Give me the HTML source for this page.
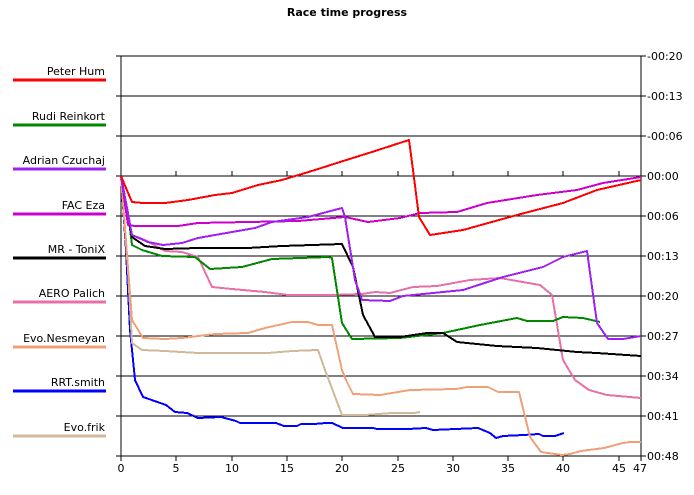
<!DOCTYPE html>
<html><head><meta charset="utf-8"><style>
body{margin:0;background:#fff}
svg{display:block}
text{font-family:"DejaVu Sans","Liberation Sans",sans-serif;font-size:11px;fill:#000}
</style></head><body>
<svg width="694" height="495" viewBox="0 0 694 495">
<text x="347" y="16" text-anchor="middle" font-weight="bold" style="font-size:11px">Race time progress</text>
<g stroke="#000" stroke-width="1" shape-rendering="crispEdges">
<line x1="116" y1="56" x2="646" y2="56"/><line x1="116" y1="96" x2="646" y2="96"/>
<line x1="116" y1="136" x2="646" y2="136"/><line x1="116" y1="176" x2="646" y2="176"/>
<line x1="116" y1="216" x2="646" y2="216"/><line x1="116" y1="256" x2="646" y2="256"/>
<line x1="116" y1="296" x2="646" y2="296"/><line x1="116" y1="336" x2="646" y2="336"/>
<line x1="116" y1="376" x2="646" y2="376"/><line x1="116" y1="416" x2="646" y2="416"/>
<line x1="116" y1="456" x2="646" y2="456"/>
<line x1="121" y1="56" x2="121" y2="456"/><line x1="641" y1="56" x2="641" y2="456"/>
<path d="M176 171V176M232 171V176M287 171V176M342 171V176M398 171V176M453 171V176M508 171V176M563 171V176M619 171V176"/>
<path d="M121 456V461M176 456V461M232 456V461M287 456V461M342 456V461M398 456V461M453 456V461M508 456V461M563 456V461M619 456V461M641 456V461"/>
</g>
<g text-anchor="middle">
<text x="121" y="472">0</text><text x="176" y="472">5</text><text x="232" y="472">10</text><text x="287" y="472">15</text><text x="342" y="472">20</text><text x="398" y="472">25</text><text x="453" y="472">30</text><text x="508" y="472">35</text><text x="563" y="472">40</text><text x="619" y="472">45</text><text x="640" y="472">47</text>
</g>
<g>
<text x="647" y="60">-00:20</text><text x="647" y="100">-00:13</text><text x="647" y="140">-00:06</text>
<text x="647" y="180">00:00</text><text x="647" y="220">00:06</text><text x="647" y="260">00:13</text>
<text x="647" y="300">00:20</text><text x="647" y="340">00:27</text><text x="647" y="380">00:34</text>
<text x="647" y="420">00:41</text><text x="647" y="460">00:48</text>
</g>
<g text-anchor="end">
<text x="105" y="75">Peter Hum</text><text x="105" y="120">Rudi Reinkort</text>
<text x="105" y="164">Adrian Czuchaj</text><text x="105" y="209">FAC Eza</text>
<text x="105" y="253">MR - ToniX</text><text x="105" y="297">AERO  Palich</text>
<text x="105" y="342">Evo.Nesmeyan</text><text x="105" y="386">RRT.smith</text>
<text x="105" y="431">Evo.frik</text>
</g>
<g stroke-width="3" shape-rendering="crispEdges">
<line x1="13" y1="80" x2="106" y2="80" stroke="#f00"/>
<line x1="13" y1="125" x2="106" y2="125" stroke="#080"/>
<line x1="13" y1="169" x2="106" y2="169" stroke="#a020f0"/>
<line x1="13" y1="214" x2="106" y2="214" stroke="#c0c"/>
<line x1="13" y1="258" x2="106" y2="258" stroke="#000"/>
<line x1="13" y1="302" x2="106" y2="302" stroke="#e870a8"/>
<line x1="13" y1="347" x2="106" y2="347" stroke="#f0a078"/>
<line x1="13" y1="391" x2="106" y2="391" stroke="#00f"/>
<line x1="13" y1="436" x2="106" y2="436" stroke="#d0b898"/>
</g>
<g fill="none" stroke-width="2" stroke-linejoin="round" shape-rendering="crispEdges">
<polyline stroke="#00f" points="121,176 126,250 130,330 135,380 143,397 166,405 175,412 187,413 198,418 221,417 236,421 240,423 276,423 284,426 297,426 301,424 314,424 326,423 332,423 343,428 373,428 377,429 408,429 426,428 433,430 478,428 490,433 496,438 503,436 524,435 539,434 543,436 555,436 564,433"/>
<polyline stroke="#d0b898" points="121,176 128,270 132,343 142,350 165,351 198,353 248,353 268,353 292,351 318,350 325,370 342,415 365,415 392,413 414,413 420,412"/>
<polyline stroke="#f0a078" points="121,176 132,320 143,338 165,339 182,338 215,334 248,333 265,328 292,322 308,322 318,325 332,325 342,370 346,380 353,394 380,395 410,390 456,389 467,387 488,387 498,392 519,392 530,437 541,452 562,455 570,454 581,451 604,448 623,443 630,442 641,442"/>
<polyline stroke="#e870a8" points="121,176 132,235 145,240 165,251 182,252 198,257 212,287 232,289 265,292 288,295 332,295 362,294 375,292 390,293 413,287 437,286 470,280 500,278 517,281 540,285 552,295 563,360 569,370 575,380 589,390 607,395 641,398"/>
<polyline stroke="#080" points="121,176 128,213 132,245 142,250 162,256 195,257 210,269 242,267 272,259 328,257 332,258 342,323 352,339 400,338 443,333 480,325 517,318 527,321 553,321 563,317 583,318 600,322"/>
<polyline stroke="#000" points="121,176 132,237 145,246 165,249 198,248 248,248 282,246 342,244 353,267 363,315 375,337 400,337 427,333 443,333 457,342 497,346 537,348 577,352 597,353 641,356"/>
<polyline stroke="#c0c" points="121,176 128,225 135,226 178,226 198,223 248,222 298,221 345,217 368,222 400,218 420,213 457,212 487,203 537,195 577,190 603,183 641,177"/>
<polyline stroke="#a020f0" points="121,176 132,235 148,242 163,245 182,243 198,238 232,232 255,228 272,222 308,217 342,208 345,217 355,280 362,300 390,301 403,296 463,290 503,277 543,267 563,257 587,251 597,323 608,339 623,339 641,336"/>
<polyline stroke="#f00" points="121,176 126,188 132,202 143,203 165,203 188,200 215,195 232,193 258,185 282,180 315,170 340,162 375,151 409,140 413,170 419,217 430,235 463,230 517,215 563,203 597,190 641,180"/>
</g>
</svg>
</body></html>
